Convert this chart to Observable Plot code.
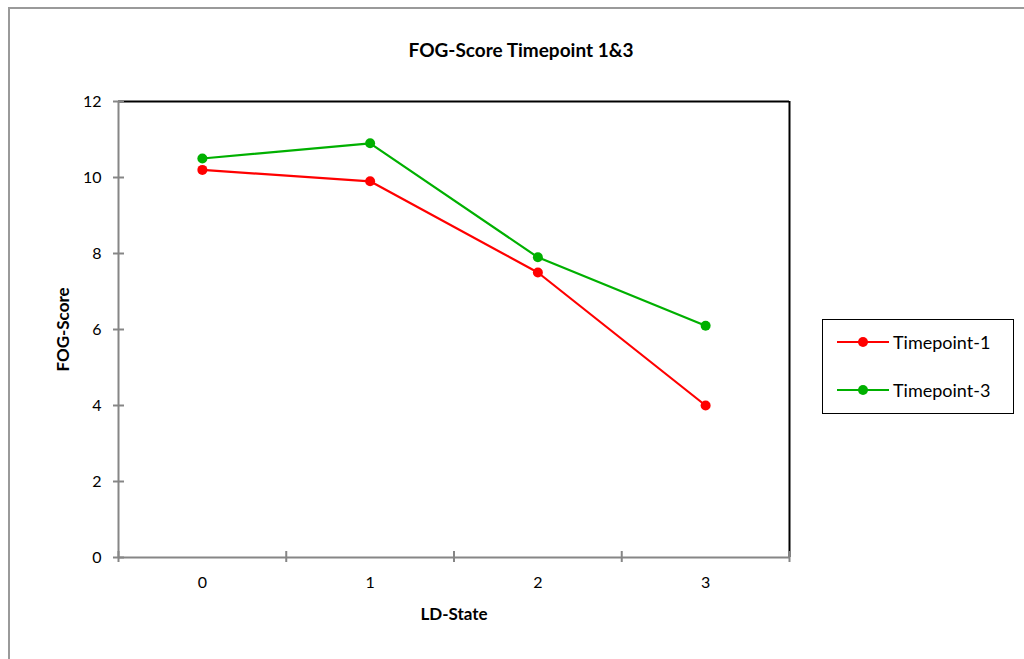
<!DOCTYPE html>
<html><head><meta charset="utf-8">
<script src="https://cdn.jsdelivr.net/npm/d3@7"></script>
<script src="https://cdn.jsdelivr.net/npm/@observablehq/plot@0.6"></script>
<style>
body{margin:0;background:#fff;font-family:Lato,"Open Sans",sans-serif;}
#wrap{position:relative;width:1024px;height:659px;overflow:hidden;}
#outer{position:absolute;left:8px;top:7px;width:1100px;height:700px;border:2px solid #9a9a9a;box-sizing:border-box;}
#title{position:absolute;left:0;width:1042px;top:38px;text-align:center;font-weight:bold;font-size:19px;color:#000;}
#legend{position:absolute;left:822px;top:319px;width:192px;height:95px;border:1px solid #000;box-sizing:border-box;background:#fff;}
.item{position:absolute;left:13px;height:22px;display:flex;align-items:center;font-size:18px;}
.item svg{margin-right:3px;}
#chart{position:absolute;left:0;top:0;}
</style></head>
<body><div id="wrap"><div id="outer"></div><div id="chart"></div><div id="title"></div><div id="legend"></div></div>
<script>
const titleText = "FOG-Score Timepoint 1&3";
const xLabel = "LD-State";
const yLabel = "FOG-Score";
const categories = [0, 1, 2, 3];
const seriesNames = ["Timepoint-1", "Timepoint-3"];
const timepoint1 = [10.2, 9.9, 7.5, 4.0];
const timepoint3 = [10.5, 10.9, 7.9, 6.1];
const colors = ["#FF0000", "#00B000"];
const yTicks = [0, 2, 4, 6, 8, 10, 12];
const xBoundaries = [-0.5, 0.5, 1.5, 2.5, 3.5];

const data = [];
[timepoint1, timepoint3].forEach((vals, s) => vals.forEach((v, i) => data.push({series: seriesNames[s], x: categories[i], y: v})));

const plot = Plot.plot({
  width: 1024, height: 659,
  marginLeft: 118, marginRight: 235, marginTop: 101, marginBottom: 102,
  style: {fontFamily: "Lato, 'Open Sans', sans-serif", fontSize: "16px", background: "transparent", color: "#000"},
  x: {type: "linear", domain: [-0.5, 3.5]},
  y: {domain: [0, 12]},
  color: {domain: seriesNames, range: colors},
  marks: [
    Plot.ruleY([12], {stroke: "#000", strokeWidth: 2}),
    Plot.ruleX([3.5], {stroke: "#000", strokeWidth: 2}),
    Plot.ruleX([-0.5], {stroke: "#868686", strokeWidth: 2}),
    Plot.ruleY([0], {stroke: "#868686", strokeWidth: 2}),
    Plot.axisY({ticks: yTicks, tickSize: 11, dx: 6, text: null, stroke: "#868686", strokeWidth: 2, strokeOpacity: 1, label: null}),
    Plot.axisY({ticks: yTicks, tickSize: 0, tickPadding: 17, fontSize: 16, label: yLabel, labelAnchor: "center", labelOffset: 62}),
    Plot.axisX({ticks: xBoundaries, tickSize: 11, dy: -6, text: null, stroke: "#868686", strokeWidth: 2, strokeOpacity: 1, label: null}),
    Plot.axisX({ticks: categories, tickSize: 0, tickPadding: 19, fontSize: 16, tickFormat: d => String(d), label: xLabel, labelAnchor: "center", labelOffset: 62}),
    Plot.line(data, {x: "x", y: "y", z: "series", stroke: "series", strokeWidth: 2.2}),
    Plot.dot(data, {x: "x", y: "y", fill: "series", r: 5})
  ]
});
plot.querySelectorAll("[aria-label='y-axis label'], [aria-label='x-axis label']").forEach(g => {
  g.setAttribute("font-weight", "bold"); g.setAttribute("font-size", "17");
  g.querySelectorAll("text").forEach(t => { t.textContent = t.textContent.replace(/\s*[→↑←↓]\s*/g, "").trim(); });
});
document.getElementById("chart").appendChild(plot);
document.getElementById("title").textContent = titleText;

const legend = document.getElementById("legend");
seriesNames.forEach((name, i) => {
  const d = document.createElement("div");
  d.className = "item";
  d.style.top = (11 + i * 48) + "px";
  d.innerHTML = `<svg width="54" height="12"><line x1="1" x2="53" y1="6" y2="6" stroke="${colors[i]}" stroke-width="2.2"/><circle cx="27" cy="6" r="5" fill="${colors[i]}"/></svg><span>${name}</span>`;
  legend.appendChild(d);
});
</script></body></html>
